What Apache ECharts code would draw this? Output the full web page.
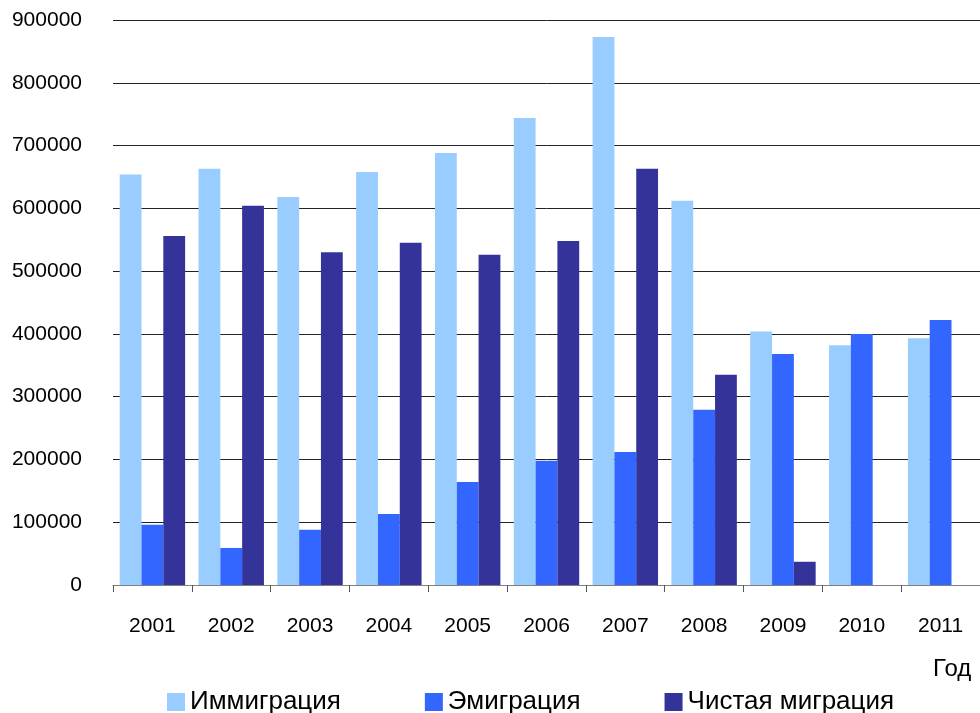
<!DOCTYPE html>
<html>
<head>
<meta charset="utf-8">
<script src="https://cdn.jsdelivr.net/npm/echarts@6/dist/echarts.min.js"></script>
<style>
  html, body { margin: 0; padding: 0; background: #fff; }
  #chart { width: 980px; height: 713px; }
</style>
</head>
<body>
<div id="chart"></div>
<script>
const years = ['2001','2002','2003','2004','2005','2006','2007','2008','2009','2010','2011'];
const immigration = [654000, 663000, 618000, 658000, 688000, 744000, 873000, 612000, 404000, 382000, 393000];
const emigration = [96000, 59000, 88000, 113000, 164000, 198000, 212000, 279000, 368000, 400000, 422000];
const netMigration = [556000, 604000, 530000, 545000, 526000, 548000, 663000, 335000, 37000, null, null];
const seriesNames = ['Иммиграция', 'Эмиграция', 'Чистая миграция'];
const axisTitle = 'Год';

const FONT = 'Liberation Sans, Arial, sans-serif';
const chart = echarts.init(document.getElementById('chart'), null, { renderer: 'canvas' });
chart.setOption({
  animation: false,
  backgroundColor: '#ffffff',
  grid: { left: 113, top: 20, width: 873, height: 565, containLabel: false },
  legend: {
    left: 162, top: 684,
    itemWidth: 18, itemHeight: 18, itemGap: 84,
    icon: 'rect',
    textStyle: { fontFamily: FONT, fontSize: 26, color: '#000' },
    data: seriesNames
  },
  xAxis: {
    type: 'category',
    data: years,
    boundaryGap: true,
    axisLine: { show: true, lineStyle: { color: '#808080', width: 1 } },
    axisTick: { show: true, length: 7, alignWithLabel: false, lineStyle: { color: '#555' } },
    axisLabel: { fontFamily: FONT, fontSize: 21, color: '#000', margin: 31 },
    splitLine: { show: false }
  },
  yAxis: {
    type: 'value',
    min: 0, max: 900000, interval: 100000,
    axisLine: { show: false },
    axisTick: { show: false },
    axisLabel: { fontFamily: FONT, fontSize: 21, color: '#000', margin: 31, formatter: function (v) { return String(v); } },
    splitLine: { show: true, lineStyle: { color: '#222', width: 1 } }
  },
  graphic: [{
    type: 'text', left: 933, top: 657,
    style: { text: axisTitle, font: '24px ' + FONT, fill: '#000' }
  }],
  series: [
    { name: seriesNames[0], type: 'bar', data: immigration, barGap: '0%', barCategoryGap: '17%', itemStyle: { color: '#99CCFF' } },
    { name: seriesNames[1], type: 'bar', data: emigration, barGap: '0%', barCategoryGap: '17%', itemStyle: { color: '#3366FF' } },
    { name: seriesNames[2], type: 'bar', data: netMigration, barGap: '0%', barCategoryGap: '17%', itemStyle: { color: '#333399' } }
  ]
});
</script>
</body>
</html>
